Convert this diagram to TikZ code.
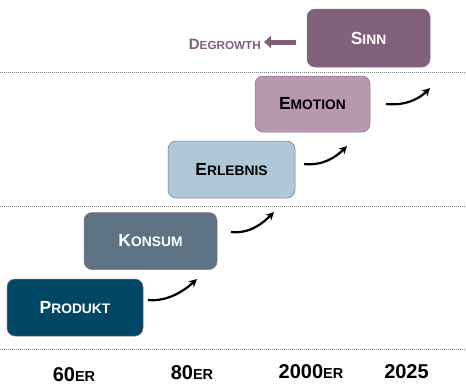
\documentclass[tikz,border=0pt]{standalone}
\usepackage{fontspec}
\setmainfont{Liberation Sans}
\usetikzlibrary{arrows.meta}

\definecolor{produktcol}{HTML}{004766}
\definecolor{konsumcol}{HTML}{5E7484}
\definecolor{erlebniscol}{HTML}{AFC8D7}
\definecolor{emotioncol}{HTML}{B798AF}
\definecolor{sinncol}{HTML}{80607B}
\definecolor{boxline}{HTML}{8A7088}

% first letter big, rest as small capitals
\newcommand{\capword}[4]{{\fontsize{#3}{#3}\selectfont #1}{\fontsize{#4}{#4}\selectfont #2}}

\begin{document}
\begin{tikzpicture}[x=1pt,y=-1pt,
	stage/.style={rectangle,rounded corners=8pt,draw=boxline,line width=0.5pt,
		minimum height=57pt,inner sep=0pt,font=\bfseries},
	sepline/.style={gray,line width=0.6pt,dash pattern=on 1.2pt off 0.8pt},
	curvearrow/.style={-{Stealth[length=8pt,width=8pt]},line width=2.2pt,black},
	decade/.style={anchor=base,font=\bfseries,inner sep=0pt}]
	\useasboundingbox (0,0) rectangle (466,384);
	% draw separators
	\foreach \yy in {72,206,349}
		\draw[sepline] (0,\yy) -- (466,\yy);
	% draw stages
	\node[stage,fill=produktcol,text=white,minimum width=136pt] (produkt) at (75,307.5) {\capword{P}{RODUKT}{17.5}{13.8}};
	\node[stage,fill=konsumcol,text=white,minimum width=133pt] (konsum) at (150.5,241) {\capword{K}{ONSUM}{17.5}{13.8}};
	\node[stage,fill=erlebniscol,text=black,minimum width=127pt] (erlebnis) at (231.5,169.5) {\capword{E}{RLEBNIS}{17.5}{13.8}};
	\node[stage,fill=emotioncol,text=black,minimum width=115pt,minimum height=56pt] (emotion) at (312.5,104) {\capword{E}{MOTION}{17.5}{13.8}};
	\node[stage,fill=sinncol,text=white,minimum width=123pt,minimum height=58pt] (sinn) at (368.5,38) {\capword{S}{INN}{17.5}{13.8}};
	% degrowth
	\node[anchor=base east,inner sep=0pt,text=sinncol,font=\bfseries] (degrowth) at (261,49) {\capword{D}{EGROWTH}{15}{11.7}};
	\coordinate (dgstart) at (296,42);
	\coordinate (dgend) at (264,42);
	\draw[-{Triangle[length=7pt,width=12pt]},line width=5pt,sinncol] (dgstart) -- (dgend);
	% draw steps
	\coordinate (s1) at (148,300); \coordinate (e1) at (197,279);
	\coordinate (s2) at (231,232); \coordinate (e2) at (274,212);
	\coordinate (s3) at (304,164); \coordinate (e3) at (347,146);
	\coordinate (s4) at (386,104); \coordinate (e4) at (430,88);
	\draw[curvearrow] (s1) .. controls +(20,2) and +(-12,11) .. (e1);
	\draw[curvearrow] (s2) .. controls +(19,2) and +(-11,11) .. (e2);
	\draw[curvearrow] (s3) .. controls +(19,2) and +(-11,11) .. (e3);
	\draw[curvearrow] (s4) .. controls +(19,2) and +(-11,11) .. (e4);
	% decades
	\node[decade] (d60) at (74,381) {\capword{60}{ER}{20}{14.5}};
	\node[decade] (d80) at (192,379) {\capword{80}{ER}{20}{14.5}};
	\node[decade] (d2000) at (311,378) {\capword{2000}{ER}{20}{14.5}};
	\node[decade] (d2025) at (406.5,378) {\capword{2025}{}{20}{14.5}};
\end{tikzpicture}
\end{document}
